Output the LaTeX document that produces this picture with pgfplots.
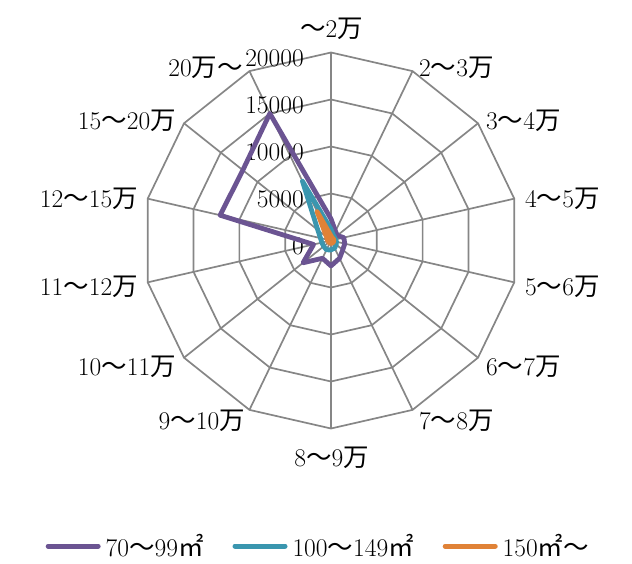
\documentclass[border=0pt]{standalone}
\usepackage{fontspec}
\usepackage{pgfplots}
\pgfplotsset{compat=1.18}
\newfontfamily\cjk{Noto Sans CJK JP}
\definecolor{cpurple}{RGB}{107,84,146}
\definecolor{cteal}{RGB}{58,150,175}
\definecolor{corange}{RGB}{224,130,55}
\definecolor{cgrid}{RGB}{134,134,134}
\begin{document}
\begin{tikzpicture}[x=1pt,y=1pt,font=\fontsize{25.5}{30}\selectfont]
\path[use as bounding box] (0,0) rectangle (632,563);
% radar grid (14 axes, rings every 5000; 188pt = 20000)
\begin{scope}[shift={(331,322.5)}]
  \foreach \r in {47,94,141,188} {
    \draw[cgrid, line width=1.7pt, line join=miter] (90:\r) \foreach \k in {1,...,13} { -- ({90-\k*360/14}:\r) } -- cycle;
  }
  \foreach \k in {0,...,13} \draw[cgrid, line width=1.7pt] (0,0) -- ({90-\k*360/14}:188);
\end{scope}
% radial tick labels
\node[anchor=east, inner sep=0pt] at (304,316.5) {0};
\node[anchor=east, inner sep=0pt] at (304,363.5) {5000};
\node[anchor=east, inner sep=0pt] at (304,410.5) {10000};
\node[anchor=east, inner sep=0pt] at (304,457.5) {15000};
\node[anchor=east, inner sep=0pt] at (304,504.5) {20000};
% category labels
\node[anchor=center, inner sep=0pt] at (331.5,534.7) {{\cjk ～}2{\cjk 万}};
\node[anchor=west, inner sep=0pt] at (419,495) {2{\cjk ～}3{\cjk 万}};
\node[anchor=west, inner sep=0pt] at (486,442) {3{\cjk ～}4{\cjk 万}};
\node[anchor=west, inner sep=0pt] at (525,364) {4{\cjk ～}5{\cjk 万}};
\node[anchor=west, inner sep=0pt] at (525,276) {5{\cjk ～}6{\cjk 万}};
\node[anchor=west, inner sep=0pt] at (486,196.5) {6{\cjk ～}7{\cjk 万}};
\node[anchor=west, inner sep=0pt] at (419,142) {7{\cjk ～}8{\cjk 万}};
\node[anchor=center, inner sep=0pt] at (331.5,105.5) {8{\cjk ～}9{\cjk 万}};
\node[anchor=east, inner sep=0pt] at (245,142) {9{\cjk ～}10{\cjk 万}};
\node[anchor=east, inner sep=0pt] at (176,196.5) {10{\cjk ～}11{\cjk 万}};
\node[anchor=east, inner sep=0pt] at (138,276) {11{\cjk ～}12{\cjk 万}};
\node[anchor=east, inner sep=0pt] at (138,364) {12{\cjk ～}15{\cjk 万}};
\node[anchor=east, inner sep=0pt] at (176,442) {15{\cjk ～}20{\cjk 万}};
\node[anchor=east, inner sep=0pt] at (243,495) {20{\cjk 万～}};
\begin{axis}[
  at={(0,0)}, anchor=south west,
  scale only axis, width=632pt, height=563pt,
  xmin=-35212.8, xmax=32021.3, ymin=-34308.5, ymax=25585.1,
  axis lines=none, clip=false,
  every axis plot/.append style={line width=4.8pt, line join=round, data cs=polar},
  legend columns=3,
  legend cell align=left,
  legend image code/.code={\draw[line width=5pt, line cap=round] (0pt,0pt) -- (50pt,0pt);},
  legend style={at={(0.502,0.03)}, anchor=center, draw=none, fill=none,
    font=\fontsize{25.5}{30}\selectfont,
    nodes={inner sep=0pt},
    /tikz/every odd column/.append style={column sep=5pt},
    /tikz/every even column/.append style={column sep=29pt}},
]
% angle (deg) = 90 - k*360/14 ; radius = value
\addplot[cpurple] coordinates {
 (90,2300) (64.2857,1100) (38.5714,850) (12.8571,1400) (-12.8571,1500)
 (-38.5714,1600) (-64.2857,2100) (-90,2700) (-115.7143,2100) (-141.4286,3800)
 (-167.1429,1900) (-192.8571,12100) (-218.5714,12000) (-244.2857,15000)
} -- cycle;
\addlegendentry{70{\cjk ～}99{\cjk ㎡}}
\addplot[cteal] coordinates {
 (90,1200) (64.2857,600) (38.5714,500) (12.8571,500) (-12.8571,600)
 (-38.5714,700) (-64.2857,900) (-90,1000) (-115.7143,1100) (-141.4286,1000)
 (-167.1429,1000) (-192.8571,1150) (-218.5714,1800) (-244.2857,7000)
} -- cycle;
\addlegendentry{100{\cjk ～}149{\cjk ㎡}}
\addplot[corange] coordinates {
 (90,500) (64.2857,300) (38.5714,300) (12.8571,300) (-12.8571,300)
 (-38.5714,300) (-64.2857,300) (-90,300) (-115.7143,300) (-141.4286,300)
 (-167.1429,300) (-192.8571,400) (-218.5714,600) (-244.2857,3400)
} -- cycle;
\addlegendentry{150{\cjk ㎡～}}
\end{axis}
\end{tikzpicture}
\end{document}
